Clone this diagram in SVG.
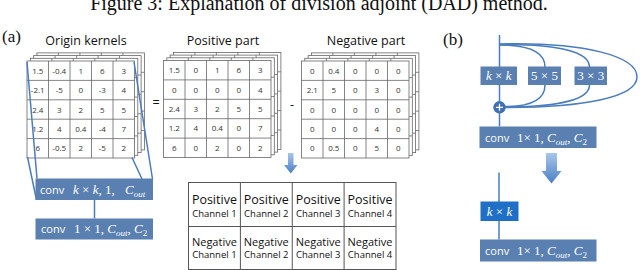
<svg xmlns="http://www.w3.org/2000/svg" width="640" height="270" viewBox="0 0 640 270">
<style>
.cap{font-family:"Liberation Serif",serif;fill:#111}
.ttl{font-family:"Open Sans","Noto Sans",sans-serif;font-size:12.5px;fill:#111;text-anchor:middle}
.cell{font-family:"Open Sans","Noto Sans",sans-serif;font-size:8px;fill:#333;text-anchor:middle}
.box{fill:#5a7fb1}
.bw{font-family:"Open Sans","Noto Sans",sans-serif;font-size:11px;fill:#fff}
.mth{font-family:"Liberation Serif",serif;font-size:13px;fill:#fff}
.it{font-style:italic}
.blue{stroke:#4a7cc0;stroke-width:1.5;fill:none}
.tb{font-family:"Open Sans","Noto Sans",sans-serif;fill:#111;text-anchor:middle}
.big{font-size:12.5px}
.neg{font-size:11px}
.sm{font-size:9.5px}
</style>
<defs>
<g id="grid">
<rect width="107.5" height="97" fill="#fff" stroke="#666" stroke-width="0.8"/>
<path d="M21.5,0V97M43,0V97M64.5,0V97M86,0V97M0,19.4H107.5M0,38.8H107.5M0,58.2H107.5M0,77.6H107.5" stroke="#666" stroke-width="0.8" fill="none"/>
</g>
<linearGradient id="ag" x1="0" y1="0" x2="0" y2="1">
<stop offset="0" stop-color="#a9c6ea"/>
<stop offset="1" stop-color="#4a7fc6"/>
</linearGradient>
</defs>

<text class="cap" x="319" y="10" font-size="20" text-anchor="middle">Figure 3: Explanation of division adjoint (DAD) method.</text>
<text class="cap" x="2" y="42" font-size="17">(a)</text>
<text class="cap" x="443" y="45" font-size="17">(b)</text>

<g id="origin-kernels">
<text class="ttl" x="86" y="45">Origin kernels</text>
<use href="#grid" x="36.9" y="52.9"/>
<use href="#grid" x="33.6" y="55.6"/>
<use href="#grid" x="30.3" y="58.3"/>
<use href="#grid" x="27" y="61"/>
<text class="cell" y="73.7"><tspan x="37.75">1.5</tspan><tspan x="59.25">-0.4</tspan><tspan x="80.75">1</tspan><tspan x="102.25">6</tspan><tspan x="123.75">3</tspan></text>
<text class="cell" y="93.1"><tspan x="37.75">-2.1</tspan><tspan x="59.25">-5</tspan><tspan x="80.75">0</tspan><tspan x="102.25">-3</tspan><tspan x="123.75">4</tspan></text>
<text class="cell" y="112.5"><tspan x="37.75">2.4</tspan><tspan x="59.25">3</tspan><tspan x="80.75">2</tspan><tspan x="102.25">5</tspan><tspan x="123.75">5</tspan></text>
<text class="cell" y="131.9"><tspan x="37.75">1.2</tspan><tspan x="59.25">4</tspan><tspan x="80.75">0.4</tspan><tspan x="102.25">-4</tspan><tspan x="123.75">7</tspan></text>
<text class="cell" y="151.3"><tspan x="37.75">6</tspan><tspan x="59.25">-0.5</tspan><tspan x="80.75">2</tspan><tspan x="102.25">-5</tspan><tspan x="123.75">2</tspan></text>
</g>

<text class="ttl" x="156" y="107" font-size="16">=</text>
<text class="ttl" x="292" y="109" font-size="14">-</text>

<g id="positive-part">
<text class="ttl" x="223" y="45">Positive part</text>
<use href="#grid" x="173.4" y="52.4"/>
<use href="#grid" x="170.1" y="55.1"/>
<use href="#grid" x="166.8" y="57.8"/>
<use href="#grid" x="163.5" y="60.5"/>
<text class="cell" y="73.2"><tspan x="174.25">1.5</tspan><tspan x="195.75">0</tspan><tspan x="217.25">1</tspan><tspan x="238.75">6</tspan><tspan x="260.25">3</tspan></text>
<text class="cell" y="92.6"><tspan x="174.25">0</tspan><tspan x="195.75">0</tspan><tspan x="217.25">0</tspan><tspan x="238.75">0</tspan><tspan x="260.25">4</tspan></text>
<text class="cell" y="112"><tspan x="174.25">2.4</tspan><tspan x="195.75">3</tspan><tspan x="217.25">2</tspan><tspan x="238.75">5</tspan><tspan x="260.25">5</tspan></text>
<text class="cell" y="131.4"><tspan x="174.25">1.2</tspan><tspan x="195.75">4</tspan><tspan x="217.25">0.4</tspan><tspan x="238.75">0</tspan><tspan x="260.25">7</tspan></text>
<text class="cell" y="150.8"><tspan x="174.25">6</tspan><tspan x="195.75">0</tspan><tspan x="217.25">2</tspan><tspan x="238.75">0</tspan><tspan x="260.25">2</tspan></text>
</g>

<g id="negative-part">
<text class="ttl" x="366" y="45">Negative part</text>
<use href="#grid" x="311.4" y="52.9"/>
<use href="#grid" x="308.1" y="55.6"/>
<use href="#grid" x="304.8" y="58.3"/>
<use href="#grid" x="301.5" y="61"/>
<text class="cell" y="73.7"><tspan x="312.25">0</tspan><tspan x="333.75">0.4</tspan><tspan x="355.25">0</tspan><tspan x="376.75">0</tspan><tspan x="398.25">0</tspan></text>
<text class="cell" y="93.1"><tspan x="312.25">2.1</tspan><tspan x="333.75">5</tspan><tspan x="355.25">0</tspan><tspan x="376.75">3</tspan><tspan x="398.25">0</tspan></text>
<text class="cell" y="112.5"><tspan x="312.25">0</tspan><tspan x="333.75">0</tspan><tspan x="355.25">0</tspan><tspan x="376.75">0</tspan><tspan x="398.25">0</tspan></text>
<text class="cell" y="131.9"><tspan x="312.25">0</tspan><tspan x="333.75">0</tspan><tspan x="355.25">0</tspan><tspan x="376.75">4</tspan><tspan x="398.25">0</tspan></text>
<text class="cell" y="151.3"><tspan x="312.25">0</tspan><tspan x="333.75">0.5</tspan><tspan x="355.25">0</tspan><tspan x="376.75">5</tspan><tspan x="398.25">0</tspan></text>
</g>

<g id="connectors">
<path class="blue" d="M27,62L37,178.5M27.5,157L36.5,200M134,62L152.5,179M132,157.5L142,179"/>
<path class="blue" d="M94.5,200V218.5"/>
<path class="blue" d="M499.5,35V126.5"/>
<path class="blue" d="M499.5,45C530,45 545,52 545,67M545,85C545,100 530,106.5 505,106.5"/>
<path class="blue" d="M499.5,44.5C560,44 589.5,52 589.5,67M589.5,85C589.5,100 560,106.5 505,107"/>
<path class="blue" d="M499.5,44C585,42 637,56 637,77C637,97 585,107.5 505,107.5"/>
<path class="blue" d="M499,172.5V239.5"/>
<polygon points="288,153 293.5,153 293.5,165 297.5,165 290.75,173.5 284,165 288,165" fill="url(#ag)"/>
<polygon points="546,153 557,153 557,171 561.5,171 551.5,183.5 541.5,171 546,171" fill="url(#ag)"/>
</g>

<g id="conv-kxk">
<rect class="box" x="35.5" y="178.5" width="117.5" height="21.5"/>
<text class="bw" x="40" y="193.5">conv</text>
<text class="mth" x="73" y="193.5"><tspan class="it">k</tspan> × <tspan class="it">k</tspan>, 1,</text>
<text class="mth" x="125" y="193.5"><tspan class="it">C</tspan><tspan class="it" font-size="9" dy="3">out</tspan></text>
</g>

<g id="conv-1x1-a">
<rect class="box" x="35.5" y="218.5" width="117.5" height="21"/>
<text class="bw" x="41" y="233">conv</text>
<text class="mth" x="74" y="233">1 × 1, <tspan class="it">C</tspan><tspan class="it" font-size="9" dy="3">out</tspan><tspan dy="-3">, </tspan><tspan class="it">C</tspan><tspan font-size="9" dy="3">2</tspan></text>
</g>

<g id="channel-table">
<rect x="188.5" y="182.5" width="207.5" height="87" fill="#fff" stroke="#555" stroke-width="1"/>
<path d="M240.4,182.5V269.5M292.25,182.5V269.5M344.1,182.5V269.5M188.5,226.5H396" stroke="#555" stroke-width="1"/>
<text class="tb big" y="204"><tspan x="214.4">Positive</tspan><tspan x="266.3">Positive</tspan><tspan x="318.2">Positive</tspan><tspan x="370.05">Positive</tspan></text>
<text class="tb sm" y="216.5"><tspan x="214.4">Channel 1</tspan><tspan x="266.3">Channel 2</tspan><tspan x="318.2">Channel 3</tspan><tspan x="370.05">Channel 4</tspan></text>
<text class="tb neg" y="246"><tspan x="214.4">Negative</tspan><tspan x="266.3">Negative</tspan><tspan x="318.2">Negative</tspan><tspan x="370.05">Negative</tspan></text>
<text class="tb sm" y="258"><tspan x="214.4">Channel 1</tspan><tspan x="266.3">Channel 2</tspan><tspan x="318.2">Channel 3</tspan><tspan x="370.05">Channel 4</tspan></text>
</g>

<g id="b-kxk">
<rect class="box" x="480.5" y="66.5" width="36.5" height="18.5"/>
<text class="mth" x="498.75" y="80" text-anchor="middle" font-size="12"><tspan class="it">k</tspan> × <tspan class="it">k</tspan></text>
</g>
<g id="b-5x5">
<rect class="box" x="528" y="66.5" width="33" height="18.5"/>
<text class="mth" x="544.5" y="80" text-anchor="middle" font-size="12">5 × 5</text>
</g>
<g id="b-3x3">
<rect class="box" x="574.5" y="66.5" width="32.5" height="18.5"/>
<text class="mth" x="590.75" y="80" text-anchor="middle" font-size="12">3 × 3</text>
</g>
<g id="b-plus">
<circle cx="499.5" cy="107.3" r="6.2" fill="#3d70b5"/>
<path d="M496,107.3H503M499.5,103.8V110.8" stroke="#fff" stroke-width="1.3"/>
</g>
<g id="b-conv-top">
<rect class="box" x="479.5" y="126.5" width="117" height="21.5"/>
<text class="bw" x="485" y="141.5">conv</text>
<text class="mth" x="517" y="141.5">1× 1,  <tspan class="it">C</tspan><tspan class="it" font-size="9" dy="3">out</tspan><tspan dy="-3">, </tspan><tspan class="it">C</tspan><tspan font-size="9" dy="3">2</tspan></text>
</g>
<g id="b-kxk-merged">
<rect x="480.5" y="201.5" width="38" height="19.5" fill="#1f6fc6"/>
<text class="mth" x="499.5" y="215.5" text-anchor="middle" font-size="12"><tspan class="it">k</tspan> × <tspan class="it">k</tspan></text>
</g>
<g id="b-conv-bottom">
<rect class="box" x="480" y="239.5" width="116.5" height="22"/>
<text class="bw" x="485" y="255">conv</text>
<text class="mth" x="517" y="255">1× 1,  <tspan class="it">C</tspan><tspan class="it" font-size="9" dy="3">out</tspan><tspan dy="-3">, </tspan><tspan class="it">C</tspan><tspan font-size="9" dy="3">2</tspan></text>
</g>
</svg>
